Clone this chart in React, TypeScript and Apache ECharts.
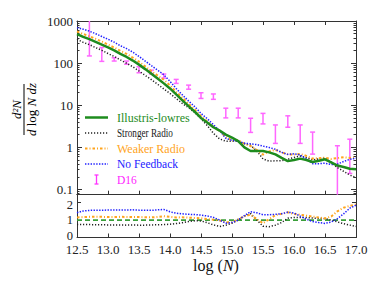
import React, { useEffect, useRef } from 'react';
import * as echarts from 'echarts';

// ---------- data ----------
const logN = [12.5, 12.6, 12.7, 12.8, 12.9, 13.0, 13.1, 13.2, 13.3, 13.4, 13.5, 13.6, 13.7, 13.8, 13.9, 14.0,
  14.1, 14.2, 14.3, 14.4, 14.5, 14.6, 14.7, 14.8, 14.9, 15.0, 15.1, 15.2, 15.3, 15.4, 15.5, 15.6, 15.7, 15.8,
  15.9, 16.0, 16.1, 16.2, 16.3, 16.4, 16.5, 16.6, 16.7, 16.8, 16.9, 17.0];

const illustrisLowres = [490, 420, 370, 320, 275, 235, 200, 165, 140, 115, 92, 72, 56, 43, 33, 25,
  18, 13, 9.5, 7, 5, 3.9, 3.0, 2.5, 2.0, 1.7, 1.4, 1.0, 0.82, 0.82, 0.82, 0.76, 0.68, 0.56,
  0.47, 0.5, 0.54, 0.5, 0.45, 0.48, 0.52, 0.44, 0.37, 0.34, 0.31, 0.30];

const strongerRadio = [368, 311, 274, 234, 201, 169, 144, 119, 99, 82, 65, 51, 40.3, 31.4, 24.4, 19,
  14.4, 11, 8.7, 6.7, 4.75, 3.3, 2.16, 1.58, 1.4, 1.39, 1.4, 1.22, 1.12, 0.82, 0.53, 0.47, 0.48, 0.48,
  0.52, 0.575, 0.62, 0.575, 0.5, 0.53, 0.56, 0.44, 0.33, 0.27, 0.22, 0.19];

const weakerRadio = [564, 491, 437, 378, 325, 275, 234, 195, 165, 135, 108, 83.5, 64.4, 50.7, 40.3, 29.5,
  20.7, 15, 10.8, 7.8, 5.5, 4.1, 3.06, 2.43, 1.76, 1.46, 1.47, 1.22, 1.07, 0.86, 0.67, 0.8, 0.87, 0.76,
  0.68, 0.675, 0.7, 0.625, 0.54, 0.55, 0.57, 0.53, 0.555, 0.58, 0.56, 0.57];

const noFeedback = [696, 638, 574, 499, 429, 369, 314, 259, 221, 182, 144, 112, 87, 68, 53, 36.8,
  25, 17.6, 12.6, 9.2, 6.4, 4.8, 3.45, 2.5, 1.64, 1.46, 1.4, 1.25, 1.21, 1.16, 1.07, 0.99, 0.9, 0.76,
  0.68, 0.7, 0.66, 0.525, 0.41, 0.41, 0.42, 0.39, 0.4, 0.46, 0.52, 0.555];

const d16LogN = [12.7, 12.9, 13.1, 13.3, 13.5, 13.7, 13.9, 14.1, 14.3, 14.5, 14.7, 14.9, 15.1, 15.3, 15.5,
  15.7, 15.9, 16.1, 16.3, 16.7, 16.9];
const d16Low = [148, 110, 112, 94, 59, 55, 44, 33, 24, 14.5, 13.8, 5.0, 5.0, 2.26, 3.6, 1.24, 3.0, 1.24,
  0.69, 0.05, 0.24];
const d16High = [1100, 235, 134, 112, 82, 68, 55, 41, 30, 19.8, 18.5, 8.5, 8.5, 4.9, 6.4, 3.4, 5.6, 3.4,
  2.3, 1.09, 1.56];

const legendLabels = ['Illustris-lowres', 'Stronger Radio', 'Weaker Radio', 'No Feedback', 'D16'];

// ---------- styling ----------
const Y_MIN = 0.075;
const Y_MAX = 1000;
const FONT = 'Liberation Serif';
const GREEN = '#1e8c1e';
const GREEN_DASH = '#3a9f3a';
const BLACK = '#222222';
const ORANGE = '#ffa41c';
const BLUE = '#2020ff';
const MAGENTA = '#ff66ff';
const AXIS = '#333333';

const DOT_BLACK = [1.2, 1.8];
const DASHDOT_ORANGE = [2.5, 2, 1, 2];
const DOT_BLUE = [1.4, 1.4];

const tok = (size: number, color: string, extra?: any, italic?: boolean) => ({
  fontFamily: FONT,
  fontSize: size,
  color,
  fill: color,
  fontStyle: italic ? 'italic' : 'normal',
  ...(extra || {}),
});

export default function App() {
  const ref = useRef<HTMLDivElement>(null);

  useEffect(() => {
    const chart = echarts.init(ref.current!, null, { renderer: 'svg' });

    const pairs = (ys: number[]) => logN.map((x, i) => [x, ys[i]]);
    const ratio = (ys: number[]) => logN.map((x, i) => [x, ys[i] / illustrisLowres[i]]);

    const G0 = { left: 77, top: 21, width: 279, height: 173.7 };
    const G1 = { left: 77, top: 194.7, width: 279, height: 42.8 };

    const baseX = (grid: number, pos: 'top' | 'bottom', labels: boolean) => ({
      type: 'value',
      gridIndex: grid,
      position: pos,
      min: 12.5,
      max: 17.0,
      interval: 0.5,
      axisLine: { show: true, onZero: false, lineStyle: { color: AXIS, width: 1 } },
      axisTick: { show: true, inside: true, length: 4, lineStyle: { color: AXIS, width: 1 } },
      axisLabel: {
        show: labels,
        margin: 5,
        fontFamily: FONT,
        fontSize: 13,
        color: '#222',
        formatter: (v: number) => `{s|${v.toFixed(1)}}`,
        rich: { s: tok(13, '#222') },
      },
      splitLine: { show: false },
    });

    const logFmt = (v: number) => {
      const l = Math.log10(v);
      if (Math.abs(l - Math.round(l)) > 1e-6) return '';
      return `{s|${l < 0 ? '0.1' : String(Math.round(v))}}`;
    };

    const topY = (pos: 'left' | 'right', labels: boolean) => ({
      type: 'log',
      logBase: 10,
      gridIndex: 0,
      position: pos,
      min: Y_MIN,
      max: Y_MAX,
      axisLine: { show: true, lineStyle: { color: AXIS, width: 1 } },
      axisTick: { show: true, inside: true, length: 5, interval: 0, lineStyle: { color: AXIS } },
      minorTick: { show: true, splitNumber: 9, length: 2.5, lineStyle: { color: AXIS } },
      axisLabel: {
        show: labels,
        interval: 0,
        margin: 4,
        fontFamily: FONT,
        fontSize: 13,
        color: '#222',
        formatter: logFmt,
        rich: { s: tok(13, '#222') },
      },
      splitLine: { show: false },
      minorSplitLine: { show: false },
    });

    const botY = (pos: 'left' | 'right', labels: boolean) => ({
      type: 'value',
      gridIndex: 1,
      position: pos,
      min: 0,
      max: 2.45,
      interval: 1,
      axisLine: { show: true, lineStyle: { color: AXIS, width: 1 } },
      axisTick: { show: true, inside: true, length: 4, lineStyle: { color: AXIS } },
      axisLabel: {
        show: labels,
        margin: 4,
        fontFamily: FONT,
        fontSize: 12.5,
        color: '#222',
        formatter: (v: number) => {
          if (!Number.isInteger(v)) return '';
          if (v === 0) return '{lo|0}';
          if (v === 2) return '{hi|2}';
          return `{s|${v}}`;
        },
        rich: {
          s: tok(12.5, '#222'),
          lo: tok(12.5, '#222', { padding: [0, 0, 4, 0] }),
          hi: tok(12.5, '#222', { padding: [4, 0, 0, 0] }),
        },
      },
      splitLine: { show: false },
    });

    const lineSeries = (name: string, data: number[][], xi: number, yi: number, color: string,
      width: number, type: any, z: number) => ({
      name,
      type: 'line',
      xAxisIndex: xi,
      yAxisIndex: yi,
      data,
      symbol: 'none',
      showSymbol: false,
      smooth: false,
      lineStyle: { color, width, type },
      z,
    });

    const errorBarData = d16LogN.map((x, i) => [x, d16Low[i], d16High[i]]);

    const legendYs = [117.5, 133, 148.5, 164, 179.5];
    const legendStyles = [
      { color: GREEN, width: 2.5, dash: null },
      { color: BLACK, width: 1.5, dash: DOT_BLACK },
      { color: ORANGE, width: 2, dash: DASHDOT_ORANGE },
      { color: BLUE, width: 1.5, dash: DOT_BLUE },
    ];
    const legendGraphics: any[] = [];
    legendStyles.forEach((s, i) => {
      legendGraphics.push({
        type: 'line',
        shape: { x1: 85, y1: legendYs[i], x2: 108, y2: legendYs[i] },
        style: { stroke: s.color, lineWidth: s.width, lineDash: s.dash || undefined },
        z: 100,
      });
    });
    legendGraphics.push(
      { type: 'line', shape: { x1: 96.5, y1: 175, x2: 96.5, y2: 184 }, style: { stroke: '#ff33ff', lineWidth: 1.3 }, z: 100 },
      { type: 'line', shape: { x1: 94.5, y1: 175, x2: 98.5, y2: 175 }, style: { stroke: '#ff33ff', lineWidth: 1.3 }, z: 100 },
      { type: 'line', shape: { x1: 94.5, y1: 184, x2: 98.5, y2: 184 }, style: { stroke: '#ff33ff', lineWidth: 1.3 }, z: 100 },
    );
    const legendTextColors = [GREEN, '#1a1a1a', ORANGE, BLUE, '#ff22ff'];
    const legendSizes = [12, 11.5, 12, 11.5, 11.5];
    const legendScaleX = [1, 0.8, 1, 1, 1];
    legendLabels.forEach((t, i) => {
      legendGraphics.push({
        type: 'text',
        x: 117,
        y: legendYs[i],
        scaleX: legendScaleX[i],
        style: {
          text: `{s|${t}}`,
          fill: legendTextColors[i],
          fontFamily: FONT,
          fontSize: legendSizes[i],
          align: 'left',
          verticalAlign: 'middle',
          rich: { s: tok(legendSizes[i], legendTextColors[i]) },
        },
        z: 100,
      });
    });

    const option: any = {
      animation: false,
      backgroundColor: '#ffffff',
      textStyle: { fontFamily: FONT },
      grid: [
        { ...G0, containLabel: false },
        { ...G1, containLabel: false },
      ],
      xAxis: [
        baseX(0, 'bottom', false),
        baseX(0, 'top', false),
        baseX(1, 'bottom', true),
        { ...baseX(1, 'top', false), axisTick: { show: false } },
      ],
      yAxis: [topY('left', true), topY('right', false), botY('left', true), botY('right', false)],
      series: [
        {
          name: 'D16',
          type: 'custom',
          xAxisIndex: 0,
          yAxisIndex: 0,
          data: errorBarData,
          encode: { x: 0, y: [1, 2] },
          z: 3,
          renderItem: (params: any, api: any) => {
            const x = api.value(0);
            const lo = api.value(1);
            const hi = api.value(2);
            const pLo = api.coord([x, Math.max(lo, Y_MIN)]);
            const pHi = api.coord([x, Math.min(hi, Y_MAX)]);
            const st = { stroke: MAGENTA, lineWidth: 1.5 };
            const children: any[] = [
              { type: 'line', shape: { x1: pLo[0], y1: pLo[1], x2: pHi[0], y2: pHi[1] }, style: st },
            ];
            if (lo >= Y_MIN) children.push({ type: 'line', shape: { x1: pLo[0] - 2.5, y1: pLo[1], x2: pLo[0] + 2.5, y2: pLo[1] }, style: st });
            if (hi <= Y_MAX) children.push({ type: 'line', shape: { x1: pHi[0] - 2.5, y1: pHi[1], x2: pHi[0] + 2.5, y2: pHi[1] }, style: st });
            return { type: 'group', children };
          },
        },
        lineSeries('Stronger Radio', pairs(strongerRadio), 0, 0, BLACK, 1.5, DOT_BLACK, 4),
        lineSeries('Weaker Radio', pairs(weakerRadio), 0, 0, ORANGE, 2, DASHDOT_ORANGE, 4),
        lineSeries('No Feedback', pairs(noFeedback), 0, 0, BLUE, 1.5, DOT_BLUE, 4),
        lineSeries('Illustris-lowres', pairs(illustrisLowres), 0, 0, GREEN, 2.5, 'solid', 5),

        lineSeries('Illustris-lowres ratio', ratio(illustrisLowres), 2, 2, GREEN_DASH, 1.8, [5, 3], 3),
        lineSeries('Stronger Radio ratio', ratio(strongerRadio), 2, 2, BLACK, 1.5, DOT_BLACK, 4),
        lineSeries('Weaker Radio ratio', ratio(weakerRadio), 2, 2, ORANGE, 2, DASHDOT_ORANGE, 4),
        lineSeries('No Feedback ratio', ratio(noFeedback), 2, 2, BLUE, 1.5, DOT_BLUE, 4),
      ],
      graphic: [
        ...legendGraphics,
        {
          type: 'line',
          shape: { x1: 24, y1: 84, x2: 24, y2: 135 },
          style: { stroke: '#000', lineWidth: 1 },
        },
        {
          type: 'text',
          x: 16.5,
          y: 109.5,
          rotation: Math.PI / 2,
          style: {
            text: '{i|d²N}',
            fill: '#000',
            fontFamily: FONT,
            fontSize: 13,
            align: 'center',
            verticalAlign: 'middle',
            rich: { i: tok(13, '#000', undefined, true) },
          },
        },
        {
          type: 'text',
          x: 31.5,
          y: 109.5,
          rotation: Math.PI / 2,
          style: {
            text: '{i|d}{r| log }{i|N}{r| }{i|dz}',
            fill: '#000',
            fontFamily: FONT,
            fontSize: 13,
            align: 'center',
            verticalAlign: 'middle',
            rich: { i: tok(13, '#000', undefined, true), r: tok(13, '#000') },
          },
        },
        {
          type: 'text',
          x: 216,
          y: 265,
          style: {
            text: '{r|log (}{i|N}{r|)}',
            fill: '#111',
            fontFamily: FONT,
            fontSize: 16,
            align: 'center',
            verticalAlign: 'middle',
            rich: { i: tok(16, '#111', undefined, true), r: tok(16, '#111') },
          },
        },
      ],
    };

    chart.setOption(option);
    return () => chart.dispose();
  }, []);

  return (
    <div
      ref={ref}
      style={{ position: 'fixed', left: 0, top: 0, width: 382, height: 287, background: '#fff' }}
    />
  );
}
